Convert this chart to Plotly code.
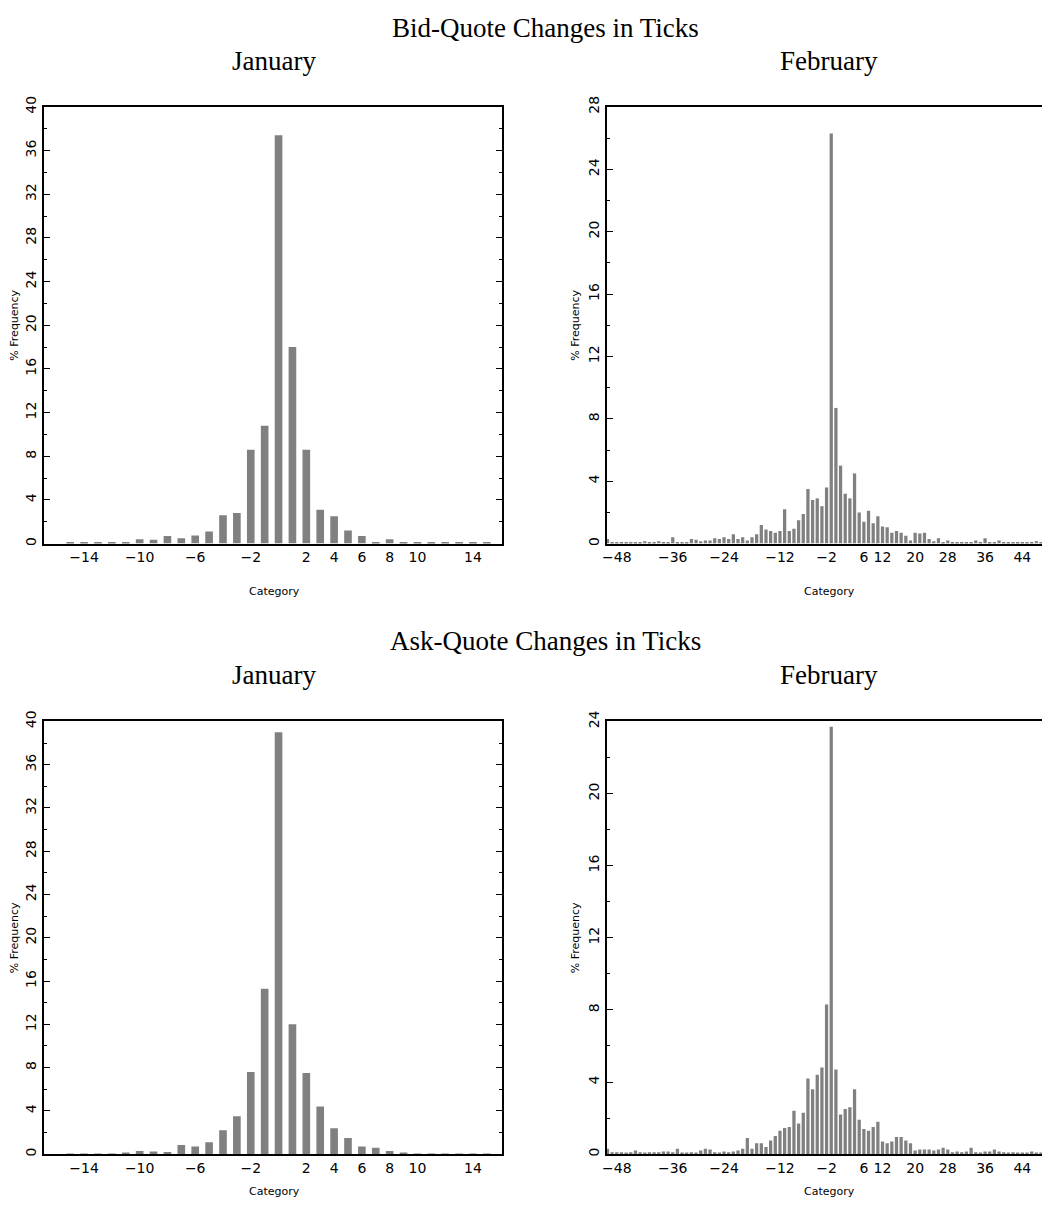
import plotly.graph_objects as go

OFF = 8
W, H = 1050 - OFF, 1216 - OFF

# January categories and values
jan_cats = list(range(-15, 16))
jan_bid = [0.1,0.1,0.1,0.1,0.1,0.4,0.35,0.7,0.5,0.75,1.1,2.6,2.8,8.6,10.8,37.4,18.0,8.6,3.1,2.5,1.2,0.7,0.15,0.4,0.1,0.1,0.1,0.1,0.1,0.1,0.1]
jan_ask = [0.05,0.05,0.05,0.05,0.1,0.3,0.25,0.2,0.85,0.7,1.1,2.2,3.5,7.6,15.3,39.0,12.0,7.5,4.4,2.4,1.5,0.7,0.6,0.3,0.15,0.05,0.05,0.05,0.05,0.05,0.05]
jan_ticks = [-14,-10,-6,-2,2,4,6,8,10,14]

# February categories (observed tick changes)
feb_cats = [c for c in range(-50, 50) if c not in (-29, 9, 11, 17, 25)]
feb_bid = [0.3,0.1,0.1,0.1,0.1,0.1,0.1,0.1,0.15,0.1,0.1,0.15,0.1,0.1,
           0.4,0.1,0.1,0.1,0.3,0.25,0.15,0.2,0.2,0.35,0.3,0.4,0.3,0.6,0.3,0.4,0.2,0.4,0.6,
           1.2,0.9,0.8,0.7,0.8,2.2,0.8,0.95,1.5,1.9,3.5,2.8,2.9,2.4,3.6,26.3,8.7,5.0,3.2,2.9,4.5,
           2.0,1.4,2.1,1.3,1.75,1.1,1.05,0.7,0.8,0.7,0.5,0.2,0.7,0.65,0.7,0.3,0.15,0.35,0.1,0.2,
           0.1,0.1,0.1,0.1,0.1,0.2,0.1,0.35,0.1,0.1,0.2,0.1,0.1,0.05,0.1,0.1,0.1,0.05,0.15,0.05,0.1]
feb_ask = [0.3,0.1,0.1,0.1,0.05,0.1,0.2,0.1,0.05,0.1,0.1,0.1,0.15,0.15,0.1,0.3,0.05,0.05,0.1,0.05,
           0.2,0.3,0.25,0.1,0.05,0.15,0.1,0.15,0.2,0.3,0.9,0.3,0.6,0.6,0.4,0.75,1.0,1.3,1.45,1.5,
           2.4,1.7,2.3,4.2,3.6,4.4,4.8,8.3,23.7,4.7,2.2,2.5,2.6,3.6,1.9,1.4,1.3,1.5,1.8,0.7,
           0.6,0.7,0.95,0.95,0.75,0.6,0.2,0.25,0.25,0.25,0.2,0.25,0.35,0.25,0.1,0.15,0.1,0.15,0.35,0.1,
           0.05,0.15,0.15,0.25,0.15,0.1,0.05,0.1,0.05,0.05,0.05,0.15,0.05,0.05,0.2]
feb_ticks = [-48,-36,-24,-12,-2,6,12,20,28,36,44]

def lab(v):
    return str(v).replace("-", "\u2212")

def px(x):
    return (x - OFF) / W

def py(y):
    y = (y - 17) / 0.99
    return 1 - y / H

fig = go.Figure()
BAR = "#808080"
panels = [
    ("x1", "y1", jan_cats, jan_bid),
    ("x2", "y2", [str(c) for c in feb_cats], feb_bid),
    ("x3", "y3", jan_cats, jan_ask),
    ("x4", "y4", [str(c) for c in feb_cats], feb_ask),
]
for xa, ya, xs, ys in panels:
    fig.add_trace(go.Bar(x=xs, y=ys, xaxis=xa, yaxis=ya, marker_color=BAR,
                         marker_line_width=0, width=0.55 if xa in ("x1", "x3") else 0.7,
                         showlegend=False))

tickfont = dict(family="DejaVu Sans", size=14, color="black")
top_dom = [py(542), py(105)]
bot_dom = [py(1153), py(720)]

common_x = dict(showline=True, linecolor="black", linewidth=2, mirror=True,
                ticks="", showgrid=False, zeroline=False, tickfont=tickfont)
def yax(dom, anchor, top):
    return dict(domain=dom, anchor=anchor, range=[0, top], dtick=4, tickangle=-90,
                showline=True, linecolor="black", linewidth=2, mirror="ticks",
                ticks="inside", ticklen=6, tickcolor="black", showgrid=False, zeroline=False,
                tickfont=tickfont, minor=dict(dtick=2, ticks="inside", ticklen=3, tickcolor="black"),
                title=dict(text="% Frequency", font=dict(family="DejaVu Sans", size=11, color="black"), standoff=4))

jan_x = dict(common_x, range=[-16.9, 16.1], tickvals=jan_ticks, ticktext=[lab(v) for v in jan_ticks])
feb_x = dict(common_x, type="category", categoryorder="array", categoryarray=[str(c) for c in feb_cats],
             range=[-0.2, len(feb_cats) - 0.5],
             tickvals=[str(v) for v in feb_ticks], ticktext=[lab(v) for v in feb_ticks])

fig.update_layout(
    width=W, height=H, margin=dict(l=0, r=0, t=0, b=0),
    paper_bgcolor="white", plot_bgcolor="white", bargap=0.4,
    xaxis=dict(jan_x, domain=[px(40), px(501)], anchor="y"),
    yaxis=yax(top_dom, "x", 40),
    xaxis2=dict(feb_x, domain=[px(606), 1.0], anchor="y2"),
    yaxis2=yax(top_dom, "x2", 28),
    xaxis3=dict(jan_x, domain=[px(40), px(501)], anchor="y3"),
    yaxis3=yax(bot_dom, "x3", 40),
    xaxis4=dict(feb_x, domain=[px(606), 1.0], anchor="y4"),
    yaxis4=yax(bot_dom, "x4", 24),
)

serif = dict(family="Liberation Serif", size=27, color="black")
def ann(text, x, y, font):
    fig.add_annotation(text=text, x=px(x), y=py(y), xref="paper", yref="paper",
                       showarrow=False, font=font, xanchor="center", yanchor="middle")
ann("Bid-Quote Changes in Ticks", 545, 26, serif)
ann("January", 272, 59, serif)
ann("February", 830, 59, serif)
ann("Ask-Quote Changes in Ticks", 545, 639, serif)
ann("January", 272, 674, serif)
ann("February", 830, 674, serif)
small = dict(family="DejaVu Sans", size=11, color="black")
for cx in (272, 830):
    ann("Category", cx, 590, small)
    ann("Category", cx, 1190, small)

fig.write_html("out.html")
